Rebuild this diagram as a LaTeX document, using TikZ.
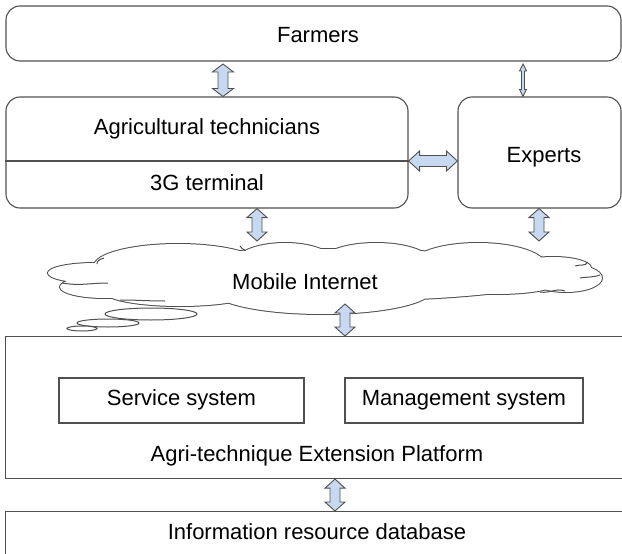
\documentclass[tikz,border=0pt]{standalone}
\usepackage{fontspec}
\setmainfont{Liberation Sans}
\usetikzlibrary{shapes.geometric,calc}
\definecolor{arrfill}{HTML}{C6D9F1}
\definecolor{linec}{HTML}{505050}
\tikzset{
  rbox/.style={draw=linec, line width=1.1pt, rounded corners=14pt, inner sep=0pt},
  sbox/.style={draw=linec, line width=1.1pt, inner sep=0pt},
  lbl/.style={inner sep=0pt, font=\fontsize{22}{26}\selectfont},
  blockarr/.style={draw=linec, fill=arrfill, line width=0.9pt, line join=miter},
  bubble/.style={draw=linec, line width=1pt, ellipse, inner sep=0pt, fill=white},
  hook/.style={draw=linec, line width=1pt},
}
% vertical double block arrow: x, top anchor, bottom anchor, shaft half, head half, head length
\newcommand{\vdbl}[6]{%
  \draw[blockarr] let \p1=(#2), \p2=(#3) in
   (#1pt,\y1) -- (#1pt+#5pt,\y1-#6pt) -- (#1pt+#4pt,\y1-#6pt) -- (#1pt+#4pt,\y2+#6pt)
   -- (#1pt+#5pt,\y2+#6pt) -- (#1pt,\y2) -- (#1pt-#5pt,\y2+#6pt) -- (#1pt-#4pt,\y2+#6pt)
   -- (#1pt-#4pt,\y1-#6pt) -- (#1pt-#5pt,\y1-#6pt) -- cycle;}
% horizontal double block arrow: y(canvas pt), left anchor, right anchor, shaft half, head half, head length
\newcommand{\hdbl}[6]{%
  \draw[blockarr] let \p1=(#2), \p2=(#3) in
   (\x1,#1pt) -- (\x1+#6pt,#1pt+#5pt) -- (\x1+#6pt,#1pt+#4pt) -- (\x2-#6pt,#1pt+#4pt)
   -- (\x2-#6pt,#1pt+#5pt) -- (\x2,#1pt) -- (\x2-#6pt,#1pt-#5pt) -- (\x2-#6pt,#1pt-#4pt)
   -- (\x1+#6pt,#1pt-#4pt) -- (\x1+#6pt,#1pt-#5pt) -- cycle;}
\newcommand{\cloudlobes}{%
  (95,273) ellipse [x radius=47, y radius=10]
  (178,266) ellipse [x radius=84, y radius=22]
  (285,263) ellipse [x radius=50, y radius=20]
  (376,263) ellipse [x radius=56, y radius=20]
  (478,266) ellipse [x radius=68, y radius=23]
  (553,268) ellipse [x radius=38, y radius=11]
  (566,278) ellipse [x radius=36, y radius=14]
  (497,283) ellipse [x radius=60, y radius=11]
  (322,290) ellipse [x radius=110, y radius=24]
  (180,292) ellipse [x radius=75, y radius=14]
  (105,287) ellipse [x radius=45, y radius=11]
  (330,275) ellipse [x radius=230, y radius=26]}
\begin{document}
\begin{tikzpicture}[x=1pt,y=-1pt]
\useasboundingbox (0,0) rectangle (622,554);
\clip (0,0) rectangle (622,554);
\fill[white] (0,0) rectangle (622,554);

% Farmers
\node[rbox, minimum width=615, minimum height=55] (farmers) at (313.5,33.5) {};
\node[lbl] (farmerstxt) at (318,35) {Farmers};

% Agricultural technicians / 3G terminal
\node[rbox, minimum width=402, minimum height=111] (tech) at (207,152.5) {};
\node[lbl] (techtxt) at (207,129) {Agricultural technicians};
\node[lbl] (g3) at (207,183) {3G terminal};
\coordinate (split) at (207,161);
\draw[linec, line width=1.1pt] (tech.west |- split) -- (tech.east |- split);

% Experts
\node[rbox, minimum width=163, minimum height=111] (experts) at (539.5,152.5) {};
\node[lbl] (expertstxt) at (544,157) {Experts};

% Cloud (union of lobes)
\draw[linec, line width=2pt] \cloudlobes;
\fill[white] \cloudlobes;
% small inner hooks of the cloud
\draw[hook] (97,264) to[out=100, in=200] (104,258);
\draw[hook] (62,283) to[out=-10, in=180] (108,283);
\draw[hook] (240,246) to[out=-60, in=160] (245,250);
\draw[hook] (588,262) to[out=-120, in=20] (575,266);
\draw[hook] (565,291) to[out=160, in=-10] (540,292);
\draw[hook] (600,275) to[out=200, in=10] (580,278);
\draw[hook] (120,300) to[out=0, in=180] (165,301);
\node[inner sep=0pt] (cloud) at (325,280) {};
\node[lbl] (mi) at (305,282) {Mobile Internet};
\node[bubble, minimum width=92, minimum height=12] (b1) at (151,314) {};
\node[bubble, minimum width=62, minimum height=8] (b2) at (108,323) {};
\node[bubble, minimum width=30, minimum height=5] (b3) at (82,328.5) {};

% Platform
\node[sbox, minimum width=625, minimum height=142, anchor=north west] (platform) at (5,336) {};
\node[sbox, minimum width=245, minimum height=45] (service) at (181.5,400.5) {};
\node[lbl] (servicetxt) at (181.5,400) {Service system};
\node[sbox, minimum width=238, minimum height=45] (mgmt) at (464,400.5) {};
\node[lbl] (mgmttxt) at (464,400) {Management system};
\node[lbl] (platformtxt) at (317,456) {Agri-technique Extension Platform};

% Database
\node[sbox, minimum width=625, minimum height=60, anchor=north west] (db) at (5,511) {};
\node[lbl] (dbtxt) at (317,532) {Information resource database};

% cloud contact points
\coordinate (ct1) at (257,241);
\coordinate (ct2) at (539,241);
\coordinate (cb) at (345,304);
\coordinate (fb1) at (223,64);
\coordinate (fb2) at (523,64);

% Arrows
\vdbl{223}{fb1}{tech.north}{5}{10.5}{8}
\vdbl{523}{fb2}{experts.north}{1.5}{3.5}{7}
\hdbl{-161}{tech.east}{experts.west}{5.5}{10}{11}
\vdbl{257}{tech.south}{ct1}{5}{10}{9}
\vdbl{539}{experts.south}{ct2}{5}{10}{9}
\vdbl{345}{cb}{platform.north}{5}{10}{9}
\vdbl{335}{platform.south}{db.north}{5}{10}{9}
\end{tikzpicture}
\end{document}
